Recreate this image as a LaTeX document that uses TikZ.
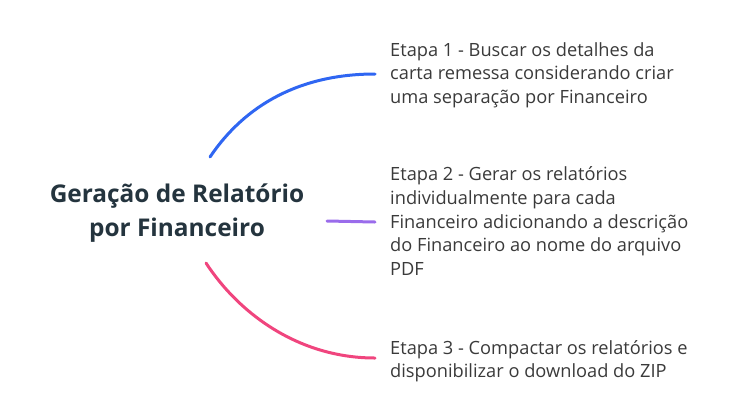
\documentclass[tikz,border=0pt]{standalone}
\usepackage{fontspec}
\setmainfont{Open Sans}
\begin{document}
\begin{tikzpicture}[x=1bp,y=-1bp,
  titletxt/.style={font=\fontsize{24.5}{34}\selectfont\bfseries, text=titlecol, align=center, inner sep=0pt},
  steptxt/.style={font=\fontsize{18.3}{23.8}\selectfont, text=stepcol, align=left, anchor=north west, inner sep=0pt},
  branch/.style={line width=3bp, line cap=round}]
\definecolor{titlecol}{HTML}{24343E}
\definecolor{stepcol}{HTML}{3A3A3A}
\definecolor{cblue}{HTML}{2F66F2}
\definecolor{cpurple}{HTML}{9A6CEB}
\definecolor{cpink}{HTML}{F0457E}
\useasboundingbox (0,0) rectangle (741,411);
\node[titletxt] (title) at (177,213) {Geração de Relatório\\por Financeiro};
\node[steptxt] (s1) at (390,42) {Etapa 1 - Buscar os detalhes da\\carta remessa considerando criar\\uma separação por Financeiro};
\node[steptxt] (s2) at (390,166.5) {Etapa 2 - Gerar os relatórios\\individualmente para cada\\Financeiro adicionando a descrição\\do Financeiro ao nome do arquivo\\PDF};
\node[steptxt] (s3) at (390,340) {Etapa 3 - Compactar os relatórios e\\disponibilizar o download do ZIP};
\coordinate (t1) at (210,157);
\coordinate (t2) at (327,221);
\coordinate (t3) at (206,263);
\coordinate (e1) at (375,74);
\coordinate (e2) at (375,222);
\coordinate (e3) at (375,358);
\draw[branch, cblue] (t1) .. controls (245,105) and (300,74) .. (e1);
\draw[branch, cpurple] (t2) -- (e2);
\draw[branch, cpink] (t3) .. controls (240,315) and (300,358) .. (e3);
\end{tikzpicture}
\end{document}
